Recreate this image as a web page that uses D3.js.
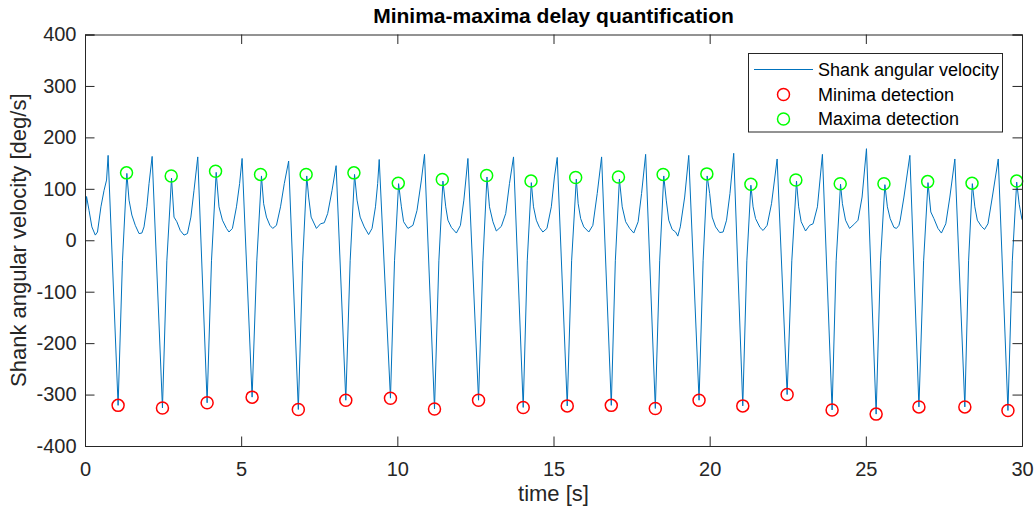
<!DOCTYPE html>
<html>
<head>
<meta charset="utf-8">
<script src="https://cdn.jsdelivr.net/npm/d3@7"></script>
<style>
  html, body { margin: 0; padding: 0; background: #fff; }
  svg { display: block; font-family: "Liberation Sans", Arial, Helvetica, sans-serif; }
</style>
</head>
<body>
<svg id="chart" width="1036" height="513"></svg>
<script>
// ---- Data ----
const signalTime = [
  0.00, 0.05, 0.13, 0.22, 0.33, 0.40, 0.51, 0.61, 0.69, 0.74,
  1.06, 1.20, 1.34, 1.41, 1.50, 1.61, 1.73, 1.82, 1.89, 1.98, 2.05, 2.15,
  2.48, 2.62, 2.77, 2.85, 2.94, 3.05, 3.17, 3.28, 3.39, 3.49, 3.61,
  3.91, 4.05, 4.20, 4.29, 4.40, 4.53, 4.61, 4.72, 4.85, 4.95, 5.03,
  5.35, 5.50, 5.65, 5.72, 5.81, 5.92, 6.01, 6.13, 6.26, 6.38, 6.52,
  6.83, 6.97, 7.10, 7.16, 7.24, 7.41, 7.54, 7.66, 7.77, 7.91, 8.04,
  8.35, 8.49, 8.63, 8.71, 8.81, 8.94, 9.08, 9.19, 9.30, 9.37, 9.42,
  9.78, 9.91, 10.04, 10.13, 10.20, 10.34, 10.50, 10.63, 10.77, 10.87,
  11.19, 11.33, 11.46, 11.55, 11.62, 11.73, 11.89, 12.02, 12.13, 12.26,
  12.60, 12.74, 12.87, 12.95, 13.06, 13.17, 13.33, 13.47, 13.59, 13.72,
  14.03, 14.16, 14.29, 14.36, 14.45, 14.55, 14.66, 14.79, 14.93, 15.03, 15.12,
  15.44, 15.58, 15.73, 15.79, 15.87, 15.97, 16.13, 16.26, 16.40, 16.54,
  16.85, 16.98, 17.11, 17.20, 17.31, 17.44, 17.57, 17.71, 17.82, 17.95,
  18.26, 18.40, 18.53, 18.61, 18.69, 18.80, 18.91, 18.98, 19.06, 19.20, 19.33,
  19.66, 19.79, 19.92, 20.00, 20.08, 20.19, 20.32, 20.43, 20.54, 20.65, 20.77,
  21.06, 21.19, 21.32, 21.39, 21.47, 21.61, 21.71, 21.84, 21.98, 22.16,
  22.48, 22.63, 22.78, 22.85, 22.93, 23.07, 23.20, 23.31, 23.45, 23.61,
  23.92, 24.05, 24.19, 24.25, 24.35, 24.48, 24.64, 24.75, 24.88, 25.02,
  25.33, 25.47, 25.61, 25.69, 25.78, 25.90, 25.98, 26.06, 26.10, 26.22, 26.41,
  26.70, 26.85, 26.99, 27.08, 27.18, 27.31, 27.42, 27.56, 27.69, 27.85,
  28.17, 28.29, 28.41, 28.49, 28.57, 28.70, 28.80, 28.91, 29.05, 29.24,
  29.55, 29.69, 29.83, 29.91, 30.00
];
const signalValue = [
  39, 85, 58, 26, 10, 16, 65, 97, 117, 165,
  -321, -39, 130, 78, 49, 29, 13, 14, 26, 65, 110, 163,
  -326, -40, 121, 45, 36, 19, 10, 13, 45, 97, 162,
  -316, -40, 132, 65, 39, 23, 16, 23, 65, 110, 159,
  -305, -40, 125, 71, 45, 29, 23, 29, 65, 110, 154,
  -329, -40, 125, 84, 45, 23, 32, 34, 52, 97, 145,
  -311, -40, 128, 78, 45, 26, 11, 23, 65, 110, 157,
  -307, -40, 110, 65, 36, 23, 29, 58, 117, 167,
  -328, -40, 115, 65, 39, 25, 14, 29, 78, 159,
  -311, -40, 123, 65, 36, 18, 27, 52, 110, 162,
  -325, -40, 112, 65, 39, 25, 16, 23, 65, 123, 161,
  -322, -40, 119, 71, 42, 26, 16, 29, 91, 162,
  -321, -40, 119, 65, 36, 23, 14, 36, 91, 167,
  -327, -40, 125, 78, 39, 21, 16, 8, 26, 84, 165,
  -311, -40, 125, 91, 45, 26, 15, 16, 39, 91, 169,
  -322, -40, 107, 65, 42, 25, 19, 29, 71, 158,
  -300, -40, 115, 65, 36, 18, 29, 32, 65, 167,
  -330, -40, 109, 71, 39, 23, 32, 39, 84, 178,
  -338, -40, 108, 65, 42, 25, 23, 29, 39, 84, 165,
  -324, -40, 112, 55, 42, 23, 14, 32, 84, 158,
  -324, -40, 110, 65, 39, 27, 21, 32, 84, 158,
  -331, -40, 113, 70, 40
];

const minimaTime  = [1.06, 2.48, 3.91, 5.35, 6.83, 8.35, 9.78, 11.19, 12.60, 14.03, 15.44,
                     16.85, 18.26, 19.66, 21.06, 22.48, 23.92, 25.33, 26.70, 28.17, 29.55];
const minimaValue = [-321, -326, -316, -305, -329, -311, -307, -328, -311, -325, -322,
                     -321, -327, -311, -322, -300, -330, -338, -324, -324, -331];

const maximaTime  = [1.33, 2.76, 4.18, 5.62, 7.08, 8.61, 10.03, 11.44, 12.86, 14.28, 15.71,
                     17.08, 18.51, 19.91, 21.32, 22.76, 24.18, 25.58, 26.98, 28.40, 29.83];
const maximaValue = [131, 125, 134, 128, 128, 131, 111, 118, 126, 115, 122,
                     123, 128, 129, 109, 117, 110, 110, 114, 111, 115];

const xTicks = [0, 5, 10, 15, 20, 25, 30];
const yTicks = [-400, -300, -200, -100, 0, 100, 200, 300, 400];
const legendLabels = ["Shank angular velocity", "Minima detection", "Maxima detection"];

const titleText = "Minima-maxima delay quantification";
const xLabelText = "time [s]";
const yLabelText = "Shank angular velocity [deg/s]";

// ---- Layout ----
const L = 85, R = 1022, T = 34.5, B = 446;
const axisColor = "#262626";
const lineColor = "#0072BD";

const svg = d3.select("#chart");
const x = d3.scaleLinear().domain([0, 30]).range([L, R]);
const y = d3.scaleLinear().domain([-400, 400]).range([B, T]);

const tickLen = 9.5;

// clip
svg.append("defs").append("clipPath").attr("id", "clip")
  .append("rect").attr("x", L).attr("y", T).attr("width", R - L).attr("height", B - T);

// white axes background
svg.append("rect").attr("x", L).attr("y", T).attr("width", R - L).attr("height", B - T).attr("fill", "#fff");

// signal
const signal = signalTime.map((t, i) => [t, signalValue[i]]);
svg.append("g").attr("clip-path", "url(#clip)")
  .append("path")
  .datum(signal)
  .attr("fill", "none")
  .attr("stroke", lineColor)
  .attr("stroke-width", 1)
  .attr("stroke-linejoin", "round")
  .attr("d", d3.line().x(d => x(d[0])).y(d => y(d[1])));

// markers
svg.append("g").selectAll("circle.min")
  .data(minimaTime.map((t, i) => [t, minimaValue[i]]))
  .join("circle")
  .attr("cx", d => x(d[0])).attr("cy", d => y(d[1])).attr("r", 6)
  .attr("fill", "none").attr("stroke", "#FF0000").attr("stroke-width", 1.5);

svg.append("g").selectAll("circle.max")
  .data(maximaTime.map((t, i) => [t, maximaValue[i]]))
  .join("circle")
  .attr("cx", d => x(d[0])).attr("cy", d => y(d[1])).attr("r", 6)
  .attr("fill", "none").attr("stroke", "#00FF00").attr("stroke-width", 1.5);

// axes (bottom / left with labels, top / right mirrored ticks)
const fontTick = 20;
const fmt = d => String(d);
const xAxisB = d3.axisBottom(x).tickValues(xTicks).tickSize(-tickLen).tickPadding(16).tickFormat(fmt);
const xAxisT = d3.axisTop(x).tickValues(xTicks).tickSize(-tickLen).tickFormat("");
const yAxisL = d3.axisLeft(y).tickValues(yTicks).tickSize(-tickLen).tickPadding(8.5).tickFormat(fmt);
const yAxisR = d3.axisRight(y).tickValues(yTicks).tickSize(-tickLen).tickFormat("");

function styleAxis(g) {
  g.select(".domain").attr("stroke", axisColor).attr("stroke-width", 1);
  g.selectAll(".tick line").attr("stroke", axisColor).attr("stroke-width", 1);
  g.selectAll(".tick text").attr("fill", axisColor).style("font-size", fontTick + "px")
    .style("font-family", '"Liberation Sans", Arial, Helvetica, sans-serif');
}

svg.append("g").attr("transform", `translate(0,${B})`).call(xAxisB).call(styleAxis);
svg.append("g").attr("transform", `translate(0,${T})`).call(xAxisT).call(styleAxis);
svg.append("g").attr("transform", `translate(${L},0)`).call(yAxisL).call(styleAxis);
svg.append("g").attr("transform", `translate(${R},0)`).call(yAxisR).call(styleAxis);

// title and labels
svg.append("text").attr("x", (L + R) / 2).attr("y", 23)
  .attr("text-anchor", "middle").attr("font-weight", "bold").attr("font-size", 21)
  .attr("fill", "#000").text(titleText);

svg.append("text").attr("x", (L + R) / 2).attr("y", 501)
  .attr("text-anchor", "middle").attr("font-size", 22)
  .attr("fill", axisColor).text(xLabelText);

svg.append("text").attr("transform", `translate(26,${(T + B) / 2}) rotate(-90)`)
  .attr("text-anchor", "middle").attr("font-size", 22)
  .attr("fill", axisColor).text(yLabelText);

// legend
const lg = svg.append("g");
const lgX = 748.5, lgY = 53.5, lgW = 254, lgH = 78.5;
lg.append("rect").attr("x", lgX).attr("y", lgY).attr("width", lgW).attr("height", lgH)
  .attr("fill", "#fff").attr("stroke", axisColor).attr("stroke-width", 1);
const rowY = [69.5, 94.5, 119];
const symX0 = 754, symX1 = 813, textX = 818;
lg.append("line").attr("x1", symX0).attr("x2", symX1).attr("y1", rowY[0]).attr("y2", rowY[0])
  .attr("stroke", lineColor).attr("stroke-width", 1);
lg.append("circle").attr("cx", (symX0 + symX1) / 2).attr("cy", rowY[1]).attr("r", 6)
  .attr("fill", "none").attr("stroke", "#FF0000").attr("stroke-width", 1.5);
lg.append("circle").attr("cx", (symX0 + symX1) / 2).attr("cy", rowY[2]).attr("r", 6)
  .attr("fill", "none").attr("stroke", "#00FF00").attr("stroke-width", 1.5);
lg.selectAll("text.lt").data(legendLabels).join("text")
  .attr("x", textX).attr("y", (d, i) => rowY[i]).attr("dy", "0.35em")
  .attr("font-size", 18).attr("fill", "#000").text(d => d);
</script>
</body>
</html>
